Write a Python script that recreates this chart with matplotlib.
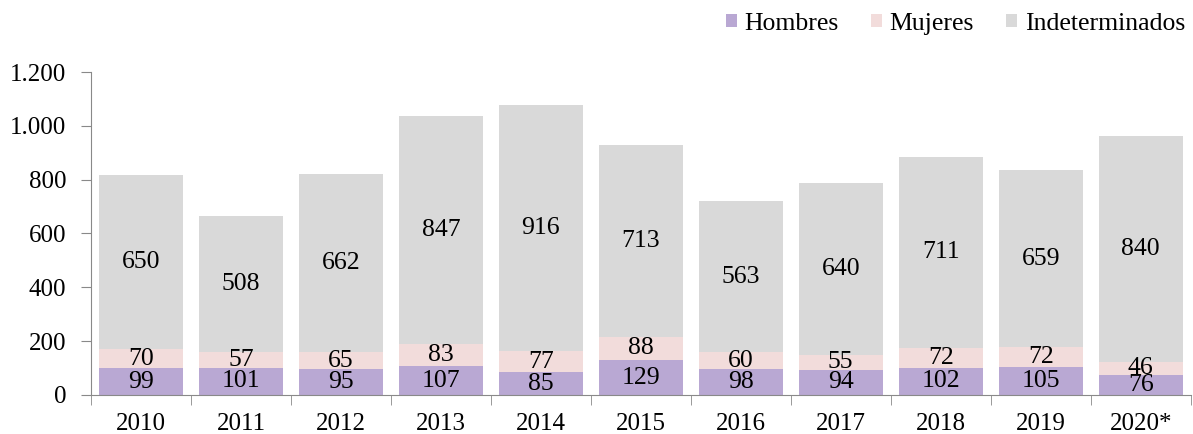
import numpy as np
import matplotlib
matplotlib.use("Agg")
import matplotlib.pyplot as plt

plt.rcParams['font.family'] = ['Liberation Serif', 'DejaVu Serif']

# data
years = ["2010", "2011", "2012", "2013", "2014", "2015", "2016", "2017", "2018", "2019", "2020*"]
hombres = [99, 101, 95, 107, 85, 129, 98, 94, 102, 105, 76]
mujeres = [70, 57, 65, 83, 77, 88, 60, 55, 72, 72, 46]
indeterminados = [650, 508, 662, 847, 916, 713, 563, 640, 711, 659, 840]

c_h = "#B9A8D3"
c_m = "#F2DCDB"
c_i = "#D9D9D9"

fig = plt.figure(figsize=(11.93, 4.34), dpi=100)
ax = fig.add_axes([0.0763, 0.0899, 0.9217, 0.7442])

x = np.arange(len(years))
h = np.array(hombres)
m = np.array(mujeres)
i = np.array(indeterminados)

b1 = ax.bar(x, h, width=0.84, color=c_h, label="Hombres")
b2 = ax.bar(x, m, width=0.84, bottom=h, color=c_m, label="Mujeres")
b3 = ax.bar(x, i, width=0.84, bottom=h + m, color=c_i, label="Indeterminados")

for bars in (b1, b2, b3):
    ax.bar_label(bars, label_type="center", fontsize=18.5, color="black")

ax.set_xlim(-0.5, len(years) - 0.5)
ax.set_ylim(0, 1200)
ax.set_yticks(range(0, 1201, 200))
ax.set_yticklabels(["0", "200", "400", "600", "800", "1.000", "1.200"])
ax.set_xticks(x)
ax.set_xticklabels(years)
ax.tick_params(axis="x", length=0, labelsize=18, pad=13)
ax.set_xticks(np.arange(-0.5, len(years), 1), minor=True)
ax.tick_params(axis="x", which="minor", length=7, color="#898989", direction="out")
ax.tick_params(axis="y", length=7, color="#898989", labelsize=18, pad=11)

for s in ("top", "right"):
    ax.spines[s].set_visible(False)
for s in ("left", "bottom"):
    ax.spines[s].set_color("#898989")

ax.legend(loc="center right", bbox_to_anchor=(0.995, 1.15), ncol=3, frameon=False,
          fontsize=18.5, handlelength=0.43, handleheight=0.43, handletextpad=0.3,
          columnspacing=1.25, borderaxespad=0, borderpad=0)

plt.savefig("out.png", dpi=100)
